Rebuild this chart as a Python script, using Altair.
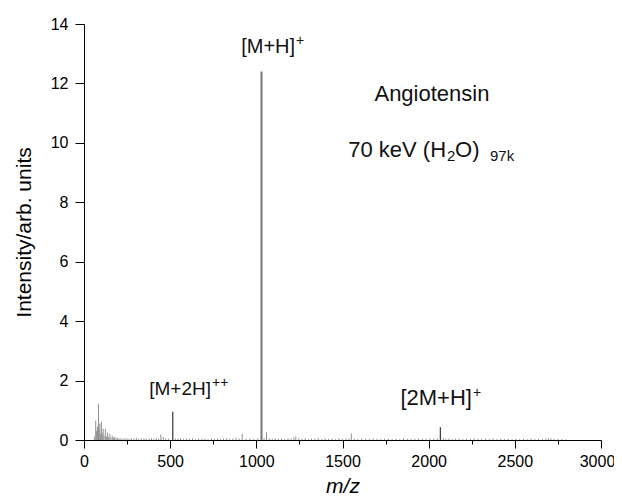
import altair as alt
import pandas as pd

# ---- data ----
base_mz = [1030]
base_int = [12.4]

major_mz = [515, 2068]
major_int = [0.95, 0.43]

minor_mz = [60, 68, 72, 78, 84, 88, 92, 97, 101, 106, 111, 116, 124, 130, 137, 143, 150, 156, 164, 172,
            178, 186, 195, 204, 214, 226, 238, 250, 262, 275, 290, 304, 318, 333, 348, 362, 378, 392,
            405, 420, 433, 446, 460, 474, 490, 530, 545, 560, 578, 595, 612, 630, 648, 665, 684,
            702, 720, 740, 758, 775, 792, 810, 828, 846, 864, 882, 900, 918, 940, 962, 985, 1008,
            1045, 1059, 1075, 1092, 1110, 1128, 1146, 1165, 1184, 1202, 1218, 1229, 1246, 1265, 1284,
            1302, 1320, 1340, 1360, 1380, 1400, 1420, 1440, 1460, 1480, 1500, 1520, 1538, 1551, 1570,
            1590, 1612, 1634, 1656, 1678, 1700, 1722, 1744, 1766, 1788, 1810, 1832, 1854, 1876, 1898,
            1920, 1942, 1964, 1986, 2008, 2030, 2050, 2085, 2100, 2118, 2136, 2155, 2176, 2198, 2220,
            2242, 2264, 2286, 2308, 2330, 2352, 2374, 2396, 2418, 2440, 2462, 2484, 2506, 2528, 2550,
            2572, 2594, 2616, 2638, 2660, 2680, 2695, 2710, 2728, 2750, 2772, 2795]
minor_int = [0.12, 0.65, 0.3, 0.45, 1.22, 0.35, 0.55, 0.2, 0.62, 0.25, 0.38, 0.15, 0.38, 0.12, 0.25, 0.1, 0.2, 0.08, 0.14, 0.08,
             0.1, 0.06, 0.07, 0.05, 0.06, 0.04, 0.07, 0.05, 0.04, 0.06, 0.05, 0.07, 0.04, 0.05, 0.06, 0.04, 0.05, 0.06,
             0.04, 0.07, 0.05, 0.19, 0.1, 0.05, 0.04, 0.05, 0.04, 0.06, 0.03, 0.05, 0.04, 0.06, 0.03, 0.05, 0.04,
             0.05, 0.03, 0.06, 0.04, 0.05, 0.03, 0.05, 0.06, 0.04, 0.05, 0.07, 0.05, 0.2, 0.04, 0.05, 0.03, 0.05,
             0.06, 0.26, 0.05, 0.04, 0.06, 0.04, 0.05, 0.03, 0.06, 0.05, 0.08, 0.12, 0.05, 0.04, 0.06,
             0.03, 0.05, 0.04, 0.06, 0.03, 0.05, 0.04, 0.05, 0.03, 0.06, 0.04, 0.05, 0.05, 0.22, 0.04,
             0.03, 0.05, 0.04, 0.03, 0.05, 0.04, 0.03, 0.04, 0.05, 0.03, 0.04, 0.03, 0.05, 0.04, 0.03,
             0.04, 0.05, 0.03, 0.04, 0.05, 0.04, 0.05, 0.06, 0.04, 0.05, 0.03, 0.04, 0.05, 0.03, 0.04,
             0.03, 0.05, 0.04, 0.03, 0.04, 0.03, 0.05, 0.03, 0.04, 0.03, 0.04, 0.03, 0.04, 0.03, 0.04,
             0.03, 0.04, 0.03, 0.04, 0.03, 0.05, 0.06, 0.05, 0.04, 0.03, 0.03, 0.02]

# ion labels: main text (right-aligned at anchor) and superscript (left-aligned)
ion_text = ["[M+H]", "[M+2H]", "[2M+H]"]
ion_x = [1225, 737, 2251]
ion_y = [13.02, 1.53, 1.18]
ion_size = [20, 19, 22]

sup_text = ["+", "++", "+"]
sup_x = [1230, 743, 2257]
sup_y = [13.29, 1.80, 1.46]

# second info line: "70 keV (H" + sub "2" + "O)" + sub "97k"
info_big_text = ["70 keV (H", "O)"]
info_big_x = [2101, 2153]
info_big_align = ["right", "left"]
info_y = 9.52
info_sub_text = ["2", "97k"]
info_sub_x = [2106, 2356]
info_sub_y = 9.38

title_text = ["Angiotensin"]
title_x = [2019]
title_y = [11.41]

x_ticks = list(range(0, 3001, 250))
y_ticks = list(range(0, 15))

FONT = "Liberation Sans"

base_df = pd.DataFrame({"mz": base_mz, "intensity": base_int})
major_df = pd.DataFrame({"mz": major_mz, "intensity": major_int})
minor_df = pd.DataFrame({"mz": minor_mz, "intensity": minor_int})
ion_df = pd.DataFrame({"t": ion_text, "mz": ion_x, "intensity": ion_y, "fs": ion_size})
sup_df = pd.DataFrame({"t": sup_text, "mz": sup_x, "intensity": sup_y})
info_big_df = pd.DataFrame({"t": info_big_text, "mz": info_big_x, "al": info_big_align, "intensity": info_y})
info_sub_df = pd.DataFrame({"t": info_sub_text, "mz": info_sub_x, "intensity": info_sub_y})
title_df = pd.DataFrame({"t": title_text, "mz": title_x, "intensity": title_y})

xscale = alt.Scale(domain=[0, 3000], nice=False, zero=False)
yscale = alt.Scale(domain=[0, 14], nice=False)

xaxis = alt.Axis(
    values=x_ticks, format="d", grid=False, labelFlush=False, labelOverlap=False,
    labelExpr="datum.value % 500 == 0 ? datum.label : ''",
    tickSize={"condition": {"test": "datum.value % 500 != 0", "value": 4}, "value": 8},
    labelOffset={"condition": {"test": "datum.value == 3000", "value": -4}, "value": 0},
    title="m/z", titleFontStyle="italic", titleFontSize=21, titlePadding=6,
    labelPadding=5,
)
yaxis = alt.Axis(
    values=y_ticks, grid=False, labelFlush=False, labelOverlap=False,
    labelExpr="datum.value % 2 == 0 ? datum.label : ''",
    tickSize={"condition": {"test": "datum.value % 2 != 0", "value": 5}, "value": 9},
    title="Intensity/arb. units", titleFontSize=21, titlePadding=16,
    labelPadding=7,
)

minor = alt.Chart(minor_df).mark_rule(color="#8f8f8f", strokeWidth=1).encode(
    x=alt.X("mz:Q", scale=xscale, axis=xaxis),
    y=alt.Y("intensity:Q", scale=yscale, axis=yaxis),
    y2=alt.datum(0),
)
base = alt.Chart(base_df).mark_rule(color="#777777", strokeWidth=2).encode(
    x="mz:Q", y="intensity:Q", y2=alt.datum(0),
)
major = alt.Chart(major_df).mark_rule(color="#444444", strokeWidth=1.3).encode(
    x="mz:Q", y="intensity:Q", y2=alt.datum(0),
)

ion = alt.Chart(ion_df).mark_text(
    font=FONT, baseline="alphabetic", align="right", color="#111"
).encode(x="mz:Q", y="intensity:Q", text="t:N",
         size=alt.Size("fs:Q", scale=None, legend=None))
sup = alt.Chart(sup_df).mark_text(
    font=FONT, fontSize=14, baseline="alphabetic", align="left", color="#111"
).encode(x="mz:Q", y="intensity:Q", text="t:N")
info_r = alt.Chart(info_big_df).transform_filter("datum.al == 'right'").mark_text(
    font=FONT, fontSize=22, baseline="alphabetic", align="right", color="#111"
).encode(x="mz:Q", y="intensity:Q", text="t:N")
info_l = alt.Chart(info_big_df).transform_filter("datum.al == 'left'").mark_text(
    font=FONT, fontSize=22, baseline="alphabetic", align="left", color="#111"
).encode(x="mz:Q", y="intensity:Q", text="t:N")
info_sub = alt.Chart(info_sub_df).mark_text(
    font=FONT, fontSize=15, baseline="alphabetic", align="left", color="#111"
).encode(x="mz:Q", y="intensity:Q", text="t:N")
ann_title = alt.Chart(title_df).mark_text(
    font=FONT, fontSize=22, baseline="alphabetic", align="center", color="#111"
).encode(x="mz:Q", y="intensity:Q", text="t:N")

chart = alt.layer(minor, base, major, ion, sup, info_r, info_l, info_sub, ann_title).properties(
    width=517, height=416,
    background="white",
    autosize=alt.AutoSizeParams(type="none"),
    padding={"left": 76, "top": 16, "right": 13, "bottom": 56},
).configure_view(stroke=None).configure_axis(
    grid=False, domainColor="#000", tickColor="#000", domainWidth=1, tickWidth=1,
    labelFont=FONT, titleFont=FONT, labelFontSize=16, labelColor="#000", titleColor="#000",
    titleFontWeight="normal",
)

chart.save("out.html", embed_options={"renderer": "svg", "actions": False})
